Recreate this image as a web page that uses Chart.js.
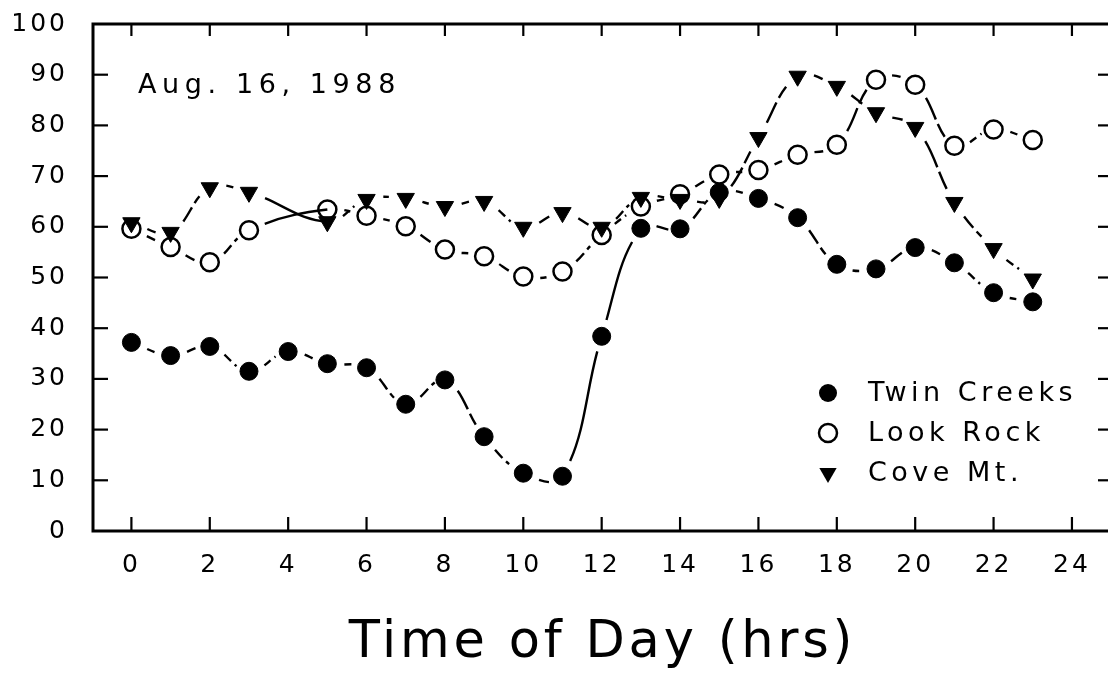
<!DOCTYPE html>
<html><head><meta charset="utf-8">
<script src="https://cdn.jsdelivr.net/npm/chart.js@4.4.0/dist/chart.umd.min.js"></script>
<style>html,body{margin:0;padding:0;background:#fff;overflow:hidden}#wrap{position:relative;width:1108px;height:677px}</style>
</head><body><div id="wrap"><canvas id="c"></canvas></div>
<script>
const hours = [0,1,2,3,4,5,6,7,8,9,10,11,12,13,14,15,16,17,18,19,20,21,22,23];
const twinCreeks = [37.2,34.6,36.4,31.5,35.4,33.0,32.2,25.0,29.8,18.6,11.4,10.8,38.4,59.7,59.6,66.8,65.6,61.8,52.6,51.7,55.9,52.9,47.0,45.2];
const lookRock   = [59.6,56.0,53.0,59.3,null,63.4,62.2,60.1,55.5,54.2,50.2,51.2,58.4,64.0,66.4,70.3,71.2,74.2,76.2,89.0,88.0,76.0,79.2,77.1];
const coveMt     = [60.8,58.9,67.7,66.8,null,61.0,65.4,65.6,64.0,65.0,59.9,62.8,59.9,65.8,65.4,65.6,77.6,89.7,87.7,82.5,79.6,64.8,55.7,49.7];
const xTickValues = [0,2,4,6,8,10,12,14,16,18,20,22,24];
const yTickValues = [0,10,20,30,40,50,60,70,80,90,100];
const seriesLabels = ['Twin Creeks','Look Rock','Cove Mt.'];
const dateLabel = 'Aug. 16, 1988';
const xAxisTitle = 'Time of Day (hrs)';

const FONT = '"DejaVu Sans", sans-serif';
const CLEAR = 17;

function segLen(a, b){
  const chord = Math.hypot(b.x - a.x, b.y - a.y);
  if (a.cp2x === undefined || b.cp1x === undefined) return chord;
  const poly = Math.hypot(a.cp2x - a.x, a.cp2y - a.y) + Math.hypot(b.cp1x - a.cp2x, b.cp1y - a.cp2y) + Math.hypot(b.x - b.cp1x, b.y - b.cp1y);
  return (chord + poly) / 2;
}
const segmentOpts = {
  borderDash: ctx => {
    const len = segLen(ctx.p0, ctx.p1);
    const v = Math.max(len - 2 * CLEAR, 0);
    if (v > 14 && v < 60) {
      const d1 = v * 0.55;
      return [0, CLEAR, d1, 5, Math.max(v - d1 - 5, 1), 3000];
    }
    return [0, CLEAR, v, 3000];
  },
  borderDashOffset: ctx => ctx.p0DataIndex * 1e-4
};

function toXY(arr){ return hours.map((h, i) => ({x: h, y: arr[i]})); }

const common = {
  borderColor: '#000', borderWidth: 2.4, tension: 0.4, spanGaps: true, fill: false,
  borderCapStyle: 'butt', segment: segmentOpts
};

const datasets = [
  Object.assign({}, common, {label: seriesLabels[0], data: toXY(twinCreeks),
    pointStyle: 'circle', pointRadius: 9, pointBackgroundColor: '#000', pointBorderColor: '#000', pointBorderWidth: 1}),
  Object.assign({}, common, {label: seriesLabels[1], data: toXY(lookRock),
    pointStyle: 'circle', pointRadius: 9, pointBackgroundColor: 'rgba(0,0,0,0)', pointBorderColor: '#000', pointBorderWidth: 2.5}),
  Object.assign({}, common, {label: seriesLabels[2], data: toXY(coveMt),
    pointStyle: 'triangle', pointRotation: 180, pointRadius: 10, pointBackgroundColor: '#000', pointBorderColor: '#000', pointBorderWidth: 1})
];

function drawMarker(ctx, kind, x, y){
  ctx.save();
  ctx.strokeStyle = '#000'; ctx.fillStyle = '#000';
  ctx.beginPath();
  if (kind === 0){ ctx.arc(x, y, 9, 0, Math.PI*2); ctx.fill(); }
  else if (kind === 1){ ctx.lineWidth = 2.5; ctx.arc(x, y, 9, 0, Math.PI*2); ctx.stroke(); }
  else {
    const r = 10;
    for (let k = 0; k < 3; k++){
      const ang = Math.PI + k * 2*Math.PI/3;
      const px = x + Math.sin(ang) * r, py = y - Math.cos(ang) * r;
      if (k === 0) ctx.moveTo(px, py); else ctx.lineTo(px, py);
    }
    ctx.closePath(); ctx.fill();
  }
  ctx.restore();
}

const decor = {
  id: 'decor',
  beforeLayout(chart){ chart.ctx.letterSpacing = '3px'; },
  beforeDraw(chart){ chart.ctx.letterSpacing = '3px'; },
  afterLayout(chart){
    const sx = chart.scales.x;
    if (sx && !sx._lsPatched){
      const orig = sx.drawTitle;
      sx.drawTitle = function(){
        const c = this.ctx; c.save(); c.letterSpacing = '3.8px'; c.translate(2, 0);
        orig.call(this); c.restore();
      };
      sx._lsPatched = true;
    }
  },
  afterDraw(chart){
    const {ctx, chartArea: a, scales: {x, y}} = chart;
    ctx.save();
    ctx.strokeStyle = '#000'; ctx.lineCap = 'butt';
    ctx.lineWidth = 3;
    ctx.beginPath();
    ctx.moveTo(a.right, a.top); ctx.lineTo(a.left, a.top); ctx.lineTo(a.left, a.bottom); ctx.lineTo(a.right, a.bottom);
    ctx.stroke();
    ctx.lineWidth = 2.2;
    const seg = (x1, y1, x2, y2) => { ctx.beginPath(); ctx.moveTo(x1, y1); ctx.lineTo(x2, y2); ctx.stroke(); };
    xTickValues.forEach(v => {
      const px = x.getPixelForValue(v);
      seg(px, a.top, px, a.top + 12);
      seg(px, a.bottom, px, a.bottom - 14);
    });
    yTickValues.forEach(v => {
      if (v === 0 || v === 100) return;
      const py = y.getPixelForValue(v);
      seg(a.left, py, a.left + 15, py);
      seg(a.right - 10, py, a.right, py);
    });
    // date label
    ctx.fillStyle = '#000';
    ctx.font = '27px ' + FONT;
    ctx.letterSpacing = '5.6px';
    ctx.textAlign = 'left'; ctx.textBaseline = 'alphabetic';
    ctx.fillText(dateLabel, a.left + 45, a.top + 69);
    // legend
    ctx.letterSpacing = '4.5px';
    ctx.textBaseline = 'middle';
    const rows = [a.bottom - 138, a.bottom - 98, a.bottom - 58];
    seriesLabels.forEach((lab, i) => {
      drawMarker(ctx, i, a.right - 280, rows[i]);
      ctx.fillText(lab, a.right - 240, rows[i] + 1);
    });
    ctx.restore();
  }
};

new Chart(document.getElementById('c'), {
  type: 'line',
  data: { datasets },
  plugins: [decor],
  options: {
    responsive: true, maintainAspectRatio: false, animation: false, events: [],
    layout: { autoPadding: false, padding: { top: 24, right: 0, left: 0, bottom: 0 } },
    plugins: { legend: { display: false }, tooltip: { enabled: false }, title: { display: false } },
    scales: {
      x: {
        type: 'linear', min: -0.98, max: 24.92,
        afterBuildTicks: s => { s.ticks = xTickValues.map(v => ({value: v})); },
        afterFit: s => { s.height = 146; s.paddingLeft = 0; s.paddingRight = 0; },
        grid: { display: false, drawTicks: false }, border: { display: false },
        ticks: { color: '#000', font: { family: FONT, size: 25 }, padding: 19, maxRotation: 0, autoSkip: false },
        title: { display: true, text: xAxisTitle, color: '#000', font: { family: FONT, size: 51 }, padding: { top: 0, bottom: 3 } }
      },
      y: {
        type: 'linear', min: 0, max: 100,
        afterBuildTicks: s => { s.ticks = yTickValues.map(v => ({value: v})); },
        afterFit: s => { s.width = 93; s.paddingTop = 0; s.paddingBottom = 0; },
        grid: { display: false, drawTicks: false }, border: { display: false },
        ticks: { color: '#000', font: { family: FONT, size: 25 }, padding: 25, autoSkip: false }
      }
    }
  }
});
</script></body></html>
